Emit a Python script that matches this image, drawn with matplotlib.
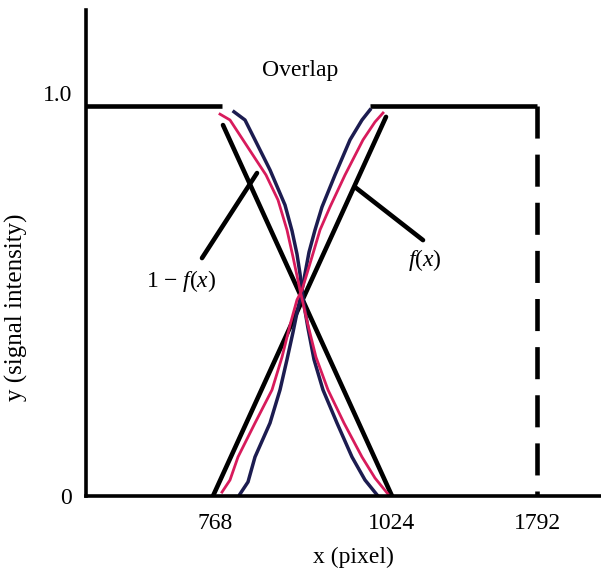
import matplotlib.pyplot as plt
import numpy as np

plt.rcParams['font.family'] = ['Liberation Serif', 'DejaVu Serif']
plt.rcParams['mathtext.fontset'] = 'custom'
plt.rcParams['mathtext.rm'] = 'Liberation Serif'
plt.rcParams['mathtext.it'] = 'Liberation Serif:italic'

# schematic x positions (drawing units) and their labels
xtick_pos = [129, 306, 451]
xtick_lab = ['768', '1024', '1792']
ytick_pos = [0, 1.0]
ytick_lab = ['0', '1.0']

# 1 - f(x), two traced versions
inv_red_x = [134, 144, 157, 170, 180, 192, 201, 207, 214, 222, 230, 242, 258, 276, 289, 302]
inv_red_y = [0.979, 0.964, 0.913, 0.862, 0.823, 0.759, 0.682, 0.613, 0.528, 0.438, 0.356,
             0.272, 0.187, 0.100, 0.046, 0.005]
inv_blue_x = [148, 159, 169, 184, 199, 206, 211, 214, 216, 218, 222, 228, 237, 251, 266, 279, 291]
inv_blue_y = [0.985, 0.964, 0.913, 0.836, 0.746, 0.680, 0.620, 0.570, 0.528, 0.490, 0.430,
              0.350, 0.272, 0.187, 0.100, 0.041, 0.003]

# f(x)
f_red_x = [136, 144, 152, 169, 186, 196, 204, 211, 216, 226, 234, 244, 259, 277, 289, 297]
f_red_y = [0.010, 0.041, 0.100, 0.187, 0.272, 0.356, 0.438, 0.503, 0.528, 0.613, 0.682,
           0.741, 0.823, 0.913, 0.959, 0.982]
f_blue_x = [154, 162, 169, 184, 194, 201, 207, 211, 214, 216, 219, 223, 229, 236, 249, 264, 276, 284]
f_blue_y = [0.005, 0.036, 0.100, 0.187, 0.272, 0.350, 0.420, 0.470, 0.505, 0.528, 0.570, 0.625,
            0.682, 0.741, 0.823, 0.913, 0.964, 0.990]

# linear ramps
lin_inv_x = [137, 306]
lin_inv_y = [0.951, 0.0]
lin_f_x = [127, 300]
lin_f_y = [0.0, 0.972]

# plateaus and boundary
left_top_x = [0, 136]
right_top_x = [284, 451]
edge_x = 451

# pointer lines to labels
ptr_inv_x = [116, 171]
ptr_inv_y = [0.610, 0.828]
ptr_f_x = [337, 269]
ptr_f_y = [0.656, 0.792]

fig = plt.figure(figsize=(6.01, 5.72), dpi=100)
ax = fig.add_axes([86 / 601, 76 / 572, 515 / 601, 486 / 572])

lw = 3.3
ax.plot(left_top_x, [1, 1], color='black', lw=lw, solid_capstyle='butt')
ax.plot(right_top_x, [1, 1], color='black', lw=lw, solid_capstyle='butt')
ax.plot([edge_x, edge_x], [1, 0], color='black', lw=lw, dashes=(7, 3.5))

ax.plot(lin_inv_x, lin_inv_y, color='black', lw=lw, solid_capstyle='round')
ax.plot(lin_f_x, lin_f_y, color='black', lw=lw, solid_capstyle='round')

ax.plot(inv_blue_x, inv_blue_y, color='#1c1c50', lw=2.5, solid_joinstyle='round')
ax.plot(f_blue_x, f_blue_y, color='#1c1c50', lw=2.5, solid_joinstyle='round')
ax.plot(inv_red_x, inv_red_y, color='#d81b5c', lw=2.0, solid_joinstyle='round')
ax.plot(f_red_x, f_red_y, color='#d81b5c', lw=2.0, solid_joinstyle='round')

ax.plot(ptr_inv_x, ptr_inv_y, color='black', lw=lw, solid_capstyle='round')
ax.plot(ptr_f_x, ptr_f_y, color='black', lw=lw, solid_capstyle='round')

ax.text(214, 1.09, 'Overlap', ha='center', va='center', fontsize=17)
ax.text(95, 0.55, r'$\mathrm{1}\ \mathrm{-}\ f\mathrm{(}x\mathrm{)}$', ha='center', va='center', fontsize=17)
ax.text(339, 0.605, r'$f\mathrm{(}x\mathrm{)}$', ha='center', va='center', fontsize=17)

ax.set_xlim(0, 515)
ax.set_ylim(0, 1.246)
ax.set_xticks(xtick_pos)
ax.set_xticklabels(xtick_lab, fontsize=17)
ax.set_yticks(ytick_pos)
ax.set_yticklabels(ytick_lab, fontsize=17)
ax.tick_params(axis='x', length=0, pad=12)
ax.tick_params(axis='y', length=0, pad=10)
ax.get_yticklabels()[1].set_va('bottom')

ax.spines['top'].set_visible(False)
ax.spines['right'].set_visible(False)
ax.spines['left'].set_linewidth(2.6)
ax.spines['bottom'].set_linewidth(2.6)

ax.set_xlabel('x (pixel)', fontsize=17)
ax.xaxis.set_label_coords(0.52, -0.105)
ax.set_ylabel('y (signal intensity)', fontsize=18)
ax.yaxis.set_label_coords(-0.113, 0.389)

plt.savefig('out.png', dpi=100)
